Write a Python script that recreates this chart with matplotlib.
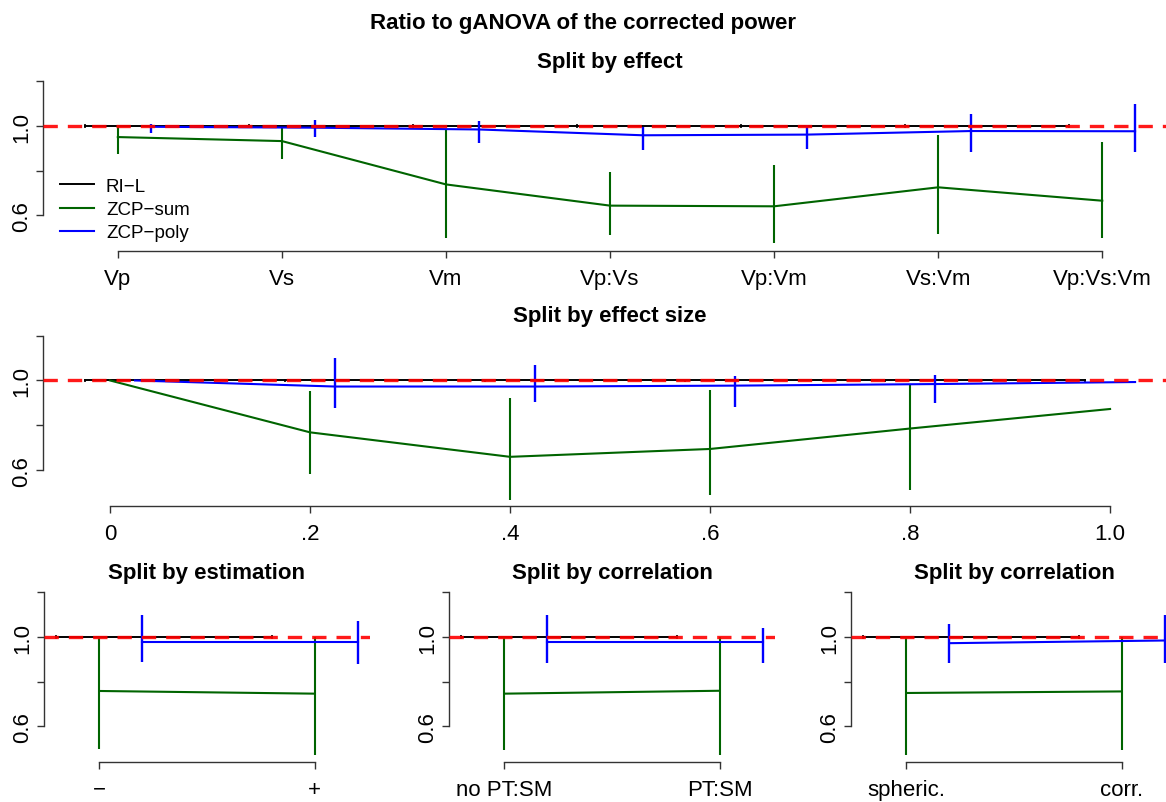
"""
Ratio to gANOVA of the corrected power - R base graphics look
"""
import matplotlib
matplotlib.use('Agg')
import matplotlib.pyplot as plt

plt.rcParams['font.family'] = ['Liberation Sans', 'DejaVu Sans']

# 数据
EFFECT_LABELS = ['Vp', 'Vs', 'Vm', 'Vp:Vs', 'Vp:Vm', 'Vs:Vm', 'Vp:Vs:Vm']
effect_ril = [1.0, 1.0, 1.0, 1.0, 1.0, 1.0, 1.0]
effect_sum = [0.951, 0.933, 0.739, 0.644, 0.641, 0.726, 0.666]
effect_sum_lo = [0.876, 0.851, 0.500, 0.512, 0.478, 0.516, 0.501]
effect_sum_hi = [1.000, 0.993, 0.981, 0.794, 0.827, 0.962, 0.930]
effect_poly = [0.997, 0.993, 0.985, 0.959, 0.962, 0.978, 0.977]
effect_poly_lo = [0.970, 0.951, 0.925, 0.894, 0.897, 0.882, 0.883]
effect_poly_hi = [1.010, 1.027, 1.022, 0.997, 1.007, 1.055, 1.098]

SIZE_X = [0.0, 0.2, 0.4, 0.6, 0.8, 1.0]
SIZE_LABELS = ['0', '.2', '.4', '.6', '.8', '1.0']
size_ril = [1.0, 1.0, 1.0, 1.0, 1.0, 1.0]
size_sum = [1.000, 0.769, 0.660, 0.695, 0.786, 0.873]
size_sum_lo = [1.000, 0.582, 0.466, 0.490, 0.512, 0.873]
size_sum_hi = [1.000, 0.951, 0.921, 0.959, 0.985, 0.873]
size_poly = [1.000, 0.973, 0.973, 0.977, 0.984, 0.993]
size_poly_lo = [1.000, 0.879, 0.903, 0.883, 0.898, 0.993]
size_poly_hi = [1.000, 1.100, 1.070, 1.022, 1.025, 0.993]

EST_LABELS = ['\u2212', '+']
est_sum = [0.759, 0.747]
est_sum_lo = [0.500, 0.471]
est_sum_hi = [1.0, 1.0]
est_poly = [0.979, 0.979]
est_poly_lo = [0.887, 0.881]
est_poly_hi = [1.100, 1.071]

PT_LABELS = ['no PT:SM', 'PT:SM']
pt_sum = [0.747, 0.760]
pt_sum_lo = [0.493, 0.471]
pt_sum_hi = [1.0, 1.0]
pt_poly = [0.979, 0.979]
pt_poly_lo = [0.884, 0.883]
pt_poly_hi = [1.100, 1.042]

SPH_LABELS = ['spheric.', 'corr.']
sph_sum = [0.750, 0.757]
sph_sum_lo = [0.471, 0.493]
sph_sum_hi = [1.0, 1.0]
sph_poly = [0.973, 0.985]
sph_poly_lo = [0.883, 0.883]
sph_poly_hi = [1.057, 1.100]

RIL_ERR = 0.008
COL_RIL, COL_SUM, COL_POLY = 'black', '#006400', '#0000FF'
AX_COL = '#333333'
TICK_FS = 16
TITLE_FS = 16


def draw_panel(ax, x, labels, ril, s, s_lo, s_hi, p, p_lo, p_hi, off, xlim, title):
    xr = [v - off for v in x]
    xp = [v + off for v in x]
    ax.plot(xr, ril, color=COL_RIL, lw=1.4, label='RI\u2212L')
    ax.vlines(xr, [v - RIL_ERR for v in ril], [v + RIL_ERR for v in ril], color=COL_RIL, lw=1.2)
    ax.plot(x, s, color=COL_SUM, lw=1.5, label='ZCP\u2212sum')
    ax.vlines(x, s_lo, s_hi, color=COL_SUM, lw=1.5)
    ax.plot(xp, p, color=COL_POLY, lw=1.5, label='ZCP\u2212poly')
    ax.vlines(xp, p_lo, p_hi, color=COL_POLY, lw=1.7)
    ax.axhline(1.0, color='red', lw=2.4, ls=(0, (4.3, 3.0)), alpha=0.9, zorder=5)

    ax.set_xlim(xlim)
    ax.set_ylim(0.441, 1.229)
    ax.set_xticks(x)
    ax.set_xticklabels(labels)
    ax.set_yticks([0.6, 0.8, 1.0, 1.2])
    ax.set_yticklabels(['0.6', '', '1.0', ''])
    for side in ['top', 'right']:
        ax.spines[side].set_visible(False)
    ax.spines['left'].set_bounds(0.6, 1.2)
    ax.spines['bottom'].set_bounds(x[0], x[-1])
    for side in ['left', 'bottom']:
        ax.spines[side].set_color(AX_COL)
        ax.spines[side].set_linewidth(1.0)
    ax.tick_params(axis='both', direction='out', length=5, width=1.0, color=AX_COL,
                   labelsize=TICK_FS)
    ax.tick_params(axis='x', pad=7)
    ax.tick_params(axis='y', pad=3)
    for lab in ax.get_yticklabels():
        lab.set_rotation(90)
        lab.set_va('center')
    ax.set_title(title, fontsize=TITLE_FS, fontweight='bold', pad=6)


fig = plt.figure(figsize=(11.66, 8.03), dpi=100)

fig.text(0.5, 1 - 23 / 803, 'Ratio to gANOVA of the corrected power',
         ha='center', va='center', fontsize=TITLE_FS, fontweight='bold')

# --- 上: 按效应 ---
ax1 = fig.add_axes([0.0369, 0.6862, 0.9726, 0.2192])
pos = list(range(1, len(EFFECT_LABELS) + 1))
draw_panel(ax1, pos, EFFECT_LABELS, effect_ril, effect_sum, effect_sum_lo, effect_sum_hi,
           effect_poly, effect_poly_lo, effect_poly_hi, 0.2, (0.544, 7.456), 'Split by effect')
ax1.legend(loc='center left', bbox_to_anchor=(0.015, 0.235), frameon=False, fontsize=13.5,
           handlelength=1.8, handletextpad=0.65, labelspacing=0.32, borderpad=0, borderaxespad=0)

# --- 中: 按效应大小 ---
ax2 = fig.add_axes([0.0369, 0.3686, 0.9726, 0.2204])
draw_panel(ax2, SIZE_X, SIZE_LABELS, size_ril, size_sum, size_sum_lo, size_sum_hi,
           size_poly, size_poly_lo, size_poly_hi, 0.025, (-0.067, 1.067), 'Split by effect size')

# --- 下: 三个小图 ---
bottom_panels = [
    (0.0377, EST_LABELS, est_sum, est_sum_lo, est_sum_hi, est_poly, est_poly_lo, est_poly_hi,
     'Split by estimation'),
    (0.3851, PT_LABELS, pt_sum, pt_sum_lo, pt_sum_hi, pt_poly, pt_poly_lo, pt_poly_hi,
     'Split by correlation'),
    (0.7298, SPH_LABELS, sph_sum, sph_sum_lo, sph_sum_hi, sph_poly, sph_poly_lo, sph_poly_hi,
     'Split by correlation'),
]
for left, labels, s, s_lo, s_hi, p, p_lo, p_hi, title in bottom_panels:
    ax = fig.add_axes([left, 0.0498, 0.2796, 0.2192])
    draw_panel(ax, [1, 2], labels, [1.0, 1.0], s, s_lo, s_hi, p, p_lo, p_hi,
               0.2, (0.744, 2.256), title)

fig.savefig('out.png', dpi=100)
